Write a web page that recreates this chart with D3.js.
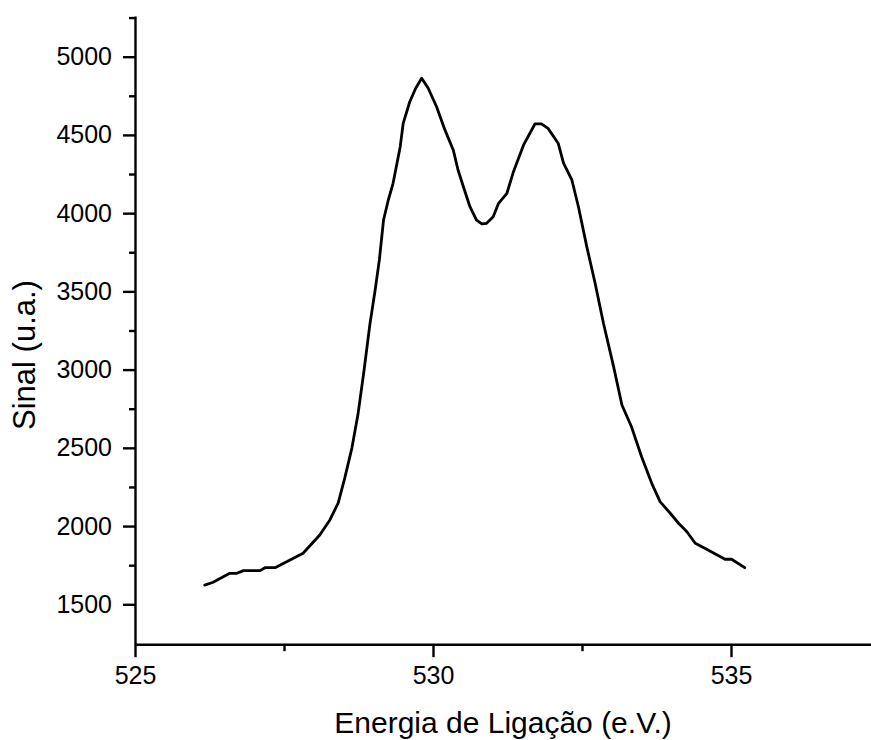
<!DOCTYPE html>
<html>
<head>
<meta charset="utf-8">
<script src="https://cdn.jsdelivr.net/npm/d3@7"></script>
<style>
  html, body { margin: 0; padding: 0; background: #fff; }
  svg { display: block; }
  text { font-family: "Liberation Sans", Arial, sans-serif; fill: #000; }
</style>
</head>
<body>
<div id="chart"></div>
<script>
// Binding energy (eV)
const energy = [526.17, 526.31, 526.59, 526.71, 526.82, 527.10, 527.18, 527.35, 527.82, 528.10,
  528.27, 528.41, 528.52, 528.64, 528.74, 528.84, 528.94, 529.03, 529.10, 529.17,
  529.25, 529.33, 529.45, 529.50, 529.61, 529.71, 529.81, 529.92, 530.06, 530.20,
  530.34, 530.42, 530.51, 530.62, 530.73, 530.82, 530.90, 531.01, 531.10, 531.24,
  531.35, 531.52, 531.71, 531.82, 531.93, 532.10, 532.19, 532.33, 532.44, 532.58,
  532.72, 532.86, 533.03, 533.17, 533.33, 533.50, 533.67, 533.81, 533.98, 534.12,
  534.26, 534.40, 534.56, 534.90, 535.01, 535.23];
// Signal (a.u.)
const signal = [1623, 1641, 1698, 1698, 1715, 1715, 1734, 1734, 1826, 1943,
  2039, 2148, 2308, 2500, 2711, 2986, 3286, 3510, 3701, 3956,
  4084, 4191, 4425, 4574, 4712, 4798, 4862, 4798, 4680, 4532,
  4404, 4276, 4169, 4041, 3956, 3931, 3935, 3977, 4063, 4127,
  4265, 4436, 4570, 4570, 4542, 4447, 4319, 4212, 4041, 3786,
  3552, 3296, 3019, 2774, 2635, 2443, 2273, 2156, 2082, 2018,
  1964, 1890, 1858, 1788, 1788, 1734];

const xMajorTicks = [525, 530, 535];
const xMinorTicks = [527.5, 532.5, 537.5];
const yMajorTicks = [1500, 2000, 2500, 3000, 3500, 4000, 4500, 5000];
const yMinorTicks = [1750, 2250, 2750, 3250, 3750, 4250, 4750, 5250];
const xTitle = "Energia de Ligação (e.V.)";
const yTitle = "Sinal (u.a.)";

const W = 871, H = 740;
const svg = d3.select("#chart").append("svg").attr("width", W).attr("height", H);

const x = d3.scaleLinear().domain([525, 537.5]).range([135, 880]);
const y = d3.scaleLinear().domain([1245, 5260]).range([644.2, 16]);

const tickFont = "25px";
const fmt = d3.format("d");

// Y axis
const yMinor = svg.append("g").attr("transform", "translate(135,0)")
  .call(d3.axisLeft(y).tickValues(yMinorTicks).tickSize(6).tickSizeOuter(0).tickFormat(""));
yMinor.select(".domain").remove();
const yAx = svg.append("g").attr("transform", "translate(135,0)")
  .call(d3.axisLeft(y).tickValues(yMajorTicks).tickSize(12).tickSizeOuter(0).tickPadding(11).tickFormat(fmt));
yAx.selectAll("text").style("font-size", tickFont).style("font-family", "Liberation Sans, Arial, sans-serif");

// X axis
const xMinor = svg.append("g").attr("transform", "translate(0,644.2)")
  .call(d3.axisBottom(x).tickValues(xMinorTicks).tickSize(7).tickSizeOuter(0).tickFormat(""));
xMinor.select(".domain").remove();
const xAx = svg.append("g").attr("transform", "translate(0,644.2)")
  .call(d3.axisBottom(x).tickValues(xMajorTicks).tickSize(13).tickSizeOuter(0).tickPadding(9).tickFormat(fmt));
xAx.selectAll("text").style("font-size", tickFont).style("font-family", "Liberation Sans, Arial, sans-serif");

svg.selectAll(".domain, .tick line").attr("stroke", "#000").attr("stroke-width", 2.4);

// Line
const pts = energy.map((e, i) => [e, signal[i]]);
svg.append("path")
  .datum(pts)
  .attr("fill", "none")
  .attr("stroke", "#000")
  .attr("stroke-width", 2.8)
  .attr("stroke-linejoin", "round")
  .attr("stroke-linecap", "round")
  .attr("d", d3.line().x(d => x(d[0])).y(d => y(d[1])).curve(d3.curveLinear));

// Titles
svg.append("text")
  .attr("x", 503).attr("y", 733)
  .attr("text-anchor", "middle")
  .style("font-size", "30px")
  .text(xTitle);

svg.append("text")
  .attr("transform", "translate(35,355) rotate(-90)")
  .attr("text-anchor", "middle")
  .style("font-size", "31px")
  .text(yTitle);
</script>
</body>
</html>
